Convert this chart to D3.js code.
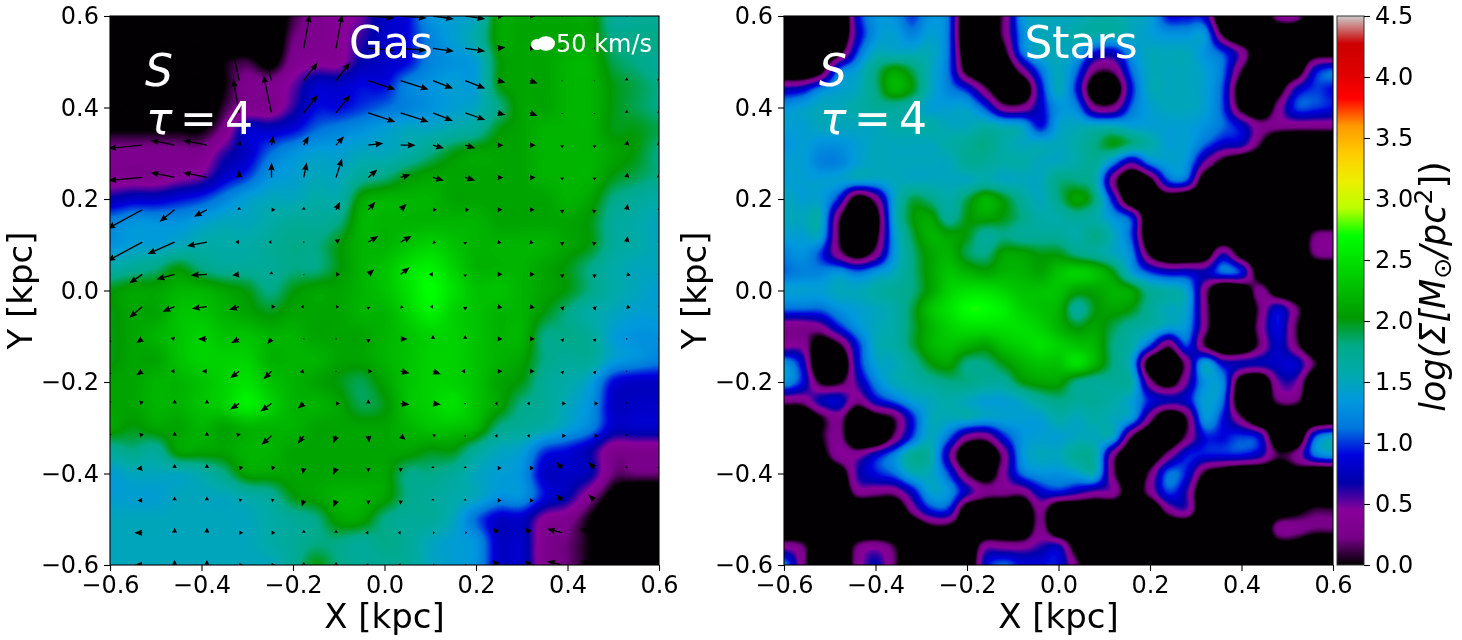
<!DOCTYPE html>
<html>
<head>
<meta charset="utf-8">
<script src="https://cdn.jsdelivr.net/npm/d3@7"></script>
<style>
	html, body { margin: 0; background: #fff; }
	#wrap { position: relative; width: 1462px; height: 640px; overflow: hidden; }
	canvas, svg { position: absolute; }
	svg { left: 0; top: 0; }
	text { font-family: "DejaVu Sans", sans-serif; }
</style>
</head>
<body>
<div id="wrap"></div>
<script>
// log surface density in tenths of a dex, top row is Y = 0.6, left column is X = -0.6
const gasDensity = [
	[-3,-3,-3,-3,-3,-3,-3,-3,1,3,4,5,8,9,13,14,15,21,21,21,21,21,17,17,17],
	[-3,-3,-3,-3,-3,-3,-3,-3,2,3,4,6,8,9,12,14,16,21,21,21,21,21,18,18,18],
	[-3,-3,-3,-3,-3,0,1,-1,3,4,4,7,8,9,12,13,14,20,21,21,22,22,19,18,17],
	[-3,-3,-3,-3,-3,0,3,3,5,8,8,9,9,12,13,14,14,20,21,21,22,22,20,19,18],
	[-3,-3,-3,-3,-3,1,3,3,6,9,9,10,11,12,13,14,15,18,21,21,22,22,20,19,18],
	[0,0,0,0,0,3,8,8,9,11,12,13,14,15,15,16,17,20,21,22,22,22,20,20,19],
	[3,3,3,3,3,6,8,11,13,14,14,15,15,16,18,20,21,21,21,22,22,22,21,20,18],
	[3,3,3,4,5,8,10,13,14,15,15,17,18,20,21,21,21,21,21,22,22,22,20,19,18],
	[7,8,8,9,10,12,14,15,15,16,16,21,22,22,22,21,21,21,21,21,22,21,18,17,16],
	[12,13,13,13,14,15,15,16,17,17,18,22,22,22,22,22,22,21,21,21,21,20,17,16,15],
	[13,14,14,15,16,16,16,17,18,18,20,22,22,23,24,23,22,22,22,22,21,20,17,16,15],
	[16,17,18,20,18,17,17,17,18,18,20,22,23,25,26,24,22,22,22,21,20,18,16,15,15],
	[20,21,21,22,22,21,20,18,20,21,21,22,23,25,27,25,23,23,22,21,20,18,16,15,14],
	[20,21,21,23,23,22,21,20,21,21,21,22,22,24,26,24,23,22,22,20,18,16,15,14,14],
	[20,21,22,23,24,23,23,22,22,21,21,21,22,23,24,24,23,22,22,18,18,17,14,13,13],
	[20,21,21,23,24,24,24,22,22,22,21,21,22,23,24,24,23,22,21,18,17,17,14,13,12],
	[21,21,22,22,23,24,25,23,22,21,20,19,21,23,24,24,23,21,20,17,16,14,9,8,8],
	[21,21,22,22,23,24,26,24,22,22,21,19,20,23,24,25,23,21,18,17,15,13,8,8,8],
	[21,20,21,21,22,21,22,22,22,21,21,21,21,22,23,23,22,18,17,16,14,12,8,8,8],
	[17,18,17,21,21,21,22,22,21,21,21,21,21,21,20,20,17,15,14,10,9,7,3,3,3],
	[14,15,15,15,16,18,21,21,21,21,21,21,21,18,18,17,15,14,13,8,8,7,2,2,2],
	[14,14,14,15,15,15,16,17,20,21,22,22,21,18,17,16,15,13,13,9,7,3,-1,-3,-3],
	[15,15,15,15,15,15,15,16,17,18,21,21,18,17,17,15,11,8,8,4,3,0,-3,-3,-3],
	[15,15,15,15,15,15,15,16,17,18,18,17,18,17,15,14,13,8,8,3,2,0,-3,-3,-3],
	[15,15,15,15,15,15,15,15,17,20,18,17,17,17,15,14,13,8,8,3,2,0,-3,-3,-3]
];

const starDensity = [
	[-5,-5,-5,-8,8,13,13,10,13,11,-6,-5,2,13,15,15,15,16,16,15,14,9,9,8,-6,-5,-5,3,3,-5,-5],
	[-5,-5,-5,-6,7,13,14,12,14,11,-6,-5,2,12,15,15,16,16,16,15,14,13,13,13,0,-6,-5,-5,-5,-5,-5],
	[-5,-5,-5,-1,10,15,15,15,15,11,-4,-5,-1,11,15,15,14,9,8,13,15,15,15,13,10,4,-4,-5,-5,-2,-2],
	[-5,-5,-1,11,14,18,21,19,15,11,-1,-5,-5,3,11,15,11,2,2,11,15,15,15,14,11,1,-5,-5,-3,8,11],
	[7,8,12,14,15,18,22,20,15,12,9,2,-5,-5,8,15,9,-4,-4,9,15,15,15,14,10,-3,-5,-2,7,10,9],
	[13,14,15,15,16,17,17,16,14,14,14,10,3,3,8,13,12,3,3,11,14,15,15,14,10,-1,-5,3,10,10,9],
	[14,14,15,15,15,15,16,16,16,15,15,16,15,14,9,14,15,15,15,14,14,14,14,13,11,8,3,3,3,3,3],
	[13,14,13,13,14,15,15,15,15,16,17,18,16,15,15,15,16,18,20,18,16,14,14,11,8,7,1,-5,-5,-5,-5],
	[14,14,12,12,14,15,15,15,15,15,17,17,16,16,15,15,16,17,12,6,12,14,13,5,-1,-4,-5,-5,-5,-5,-5],
	[14,14,14,14,14,14,15,15,15,15,15,16,15,15,15,18,18,16,3,-6,-1,10,10,-3,-5,-5,-5,-5,-5,-5,-5],
	[15,14,14,9,-2,3,14,19,18,16,19,22,20,17,15,18,21,18,8,-5,-5,-3,-5,-5,-5,-5,-5,-5,-5,-5,-5],
	[15,15,15,2,-8,-2,14,20,21,17,20,21,20,18,16,16,17,16,13,9,-5,-5,-5,-5,-5,-5,-5,-5,-5,-5,-5],
	[14,14,14,1,-8,-1,13,19,22,21,20,17,18,17,17,17,16,18,15,10,-5,-5,-5,-5,-5,-5,-5,-5,-5,2,3],
	[12,13,10,3,-2,3,13,18,21,22,19,18,21,21,20,20,18,17,15,12,0,-5,-5,-3,6,-2,-5,-5,-5,2,3],
	[11,12,12,13,11,13,15,18,21,23,22,21,22,22,21,23,24,23,20,14,10,8,8,7,11,9,-3,-5,-5,-5,-5],
	[14,14,14,15,15,16,17,18,21,24,25,25,24,23,23,23,21,21,22,21,17,16,14,3,-6,-4,3,-3,-5,-5,-5],
	[11,11,11,13,14,15,16,19,23,25,27,27,26,24,23,22,17,20,21,20,17,15,14,3,-6,-6,2,8,2,-5,-5],
	[3,3,4,9,13,15,16,19,22,24,25,25,25,25,24,22,20,21,19,17,16,14,13,3,-6,-6,3,9,1,-5,-5],
	[4,4,-3,0,9,15,16,19,22,23,22,21,23,24,25,24,23,22,18,16,10,2,10,1,-5,-5,2,8,2,-5,-5],
	[13,8,-6,-6,8,14,15,17,20,21,18,18,20,22,23,23,25,22,18,14,-3,-6,3,14,8,7,7,8,8,1,-5],
	[13,9,0,0,6,12,15,16,17,18,18,17,17,20,21,21,18,17,17,16,3,-2,5,13,12,-3,-5,5,5,-5,-5],
	[3,3,7,8,3,8,11,14,15,16,15,14,14,15,17,18,17,17,16,14,9,7,8,14,11,-5,-5,2,2,-5,-5],
	[-5,-5,0,3,-5,-2,1,9,15,15,15,14,14,14,14,16,15,16,15,13,3,-5,1,13,9,2,-5,-5,-5,-5,-4],
	[-5,-5,0,3,-6,-6,2,10,15,11,4,3,9,13,14,14,15,15,14,1,-5,-5,2,9,9,10,8,-5,-5,10,14],
	[-5,-5,-2,4,4,8,12,17,16,6,-5,-6,3,13,15,15,17,16,3,-5,-4,3,9,9,9,9,7,1,3,11,13],
	[-5,-5,-5,-3,6,9,11,15,15,10,1,-3,4,11,13,13,14,15,2,-5,2,11,9,0,-3,-5,-5,-5,-2,-5,-5],
	[-5,-5,-5,-5,3,3,3,8,14,13,7,3,3,3,8,9,7,5,4,-3,3,10,6,-5,-5,-5,-5,-5,-5,-5,-5],
	[-5,-5,-5,-5,-5,-5,-5,3,9,9,-3,-5,-5,-5,3,-5,-5,-5,-5,-5,-5,3,5,-5,-5,-5,-5,-3,-1,1,1],
	[-5,-5,-5,-5,-5,-5,-5,-5,-1,-1,-5,-5,-5,-5,3,-5,-5,-5,-5,-5,-5,-5,-5,-5,-5,-5,-5,3,3,2,2],
	[4,2,-5,-5,2,4,1,-5,-5,-5,-5,4,4,4,6,7,-2,-5,-5,-5,-5,-5,-5,-5,-5,-5,-5,-2,-2,-5,-5],
	[12,3,-5,-5,3,7,2,-5,-5,-5,-5,8,11,9,9,9,2,-5,-5,-5,-5,-5,-5,-5,-5,-5,-5,-5,-5,-5,-5]
];

// gas velocity in km/s on an 18x18 grid, same orientation as the density
const velU = [
	[0,-40,-48,-48,-14,-16,12,12,52,52,42,40,16,12,0,0,2,2],
	[0,-40,-48,-48,-14,-16,12,12,52,52,42,40,16,12,0,0,2,2],
	[0,-40,-48,-48,-14,-16,28,28,54,56,40,40,16,16,0,0,0,0],
	[0,-40,-48,-48,-12,-16,28,28,54,56,40,40,16,16,0,0,0,0],
	[-68,-68,-48,-48,2,4,10,16,30,30,22,20,12,12,0,0,2,0],
	[-68,-68,-48,-48,0,0,6,12,18,20,22,20,12,12,0,0,2,0],
	[-70,-70,-30,-26,0,8,0,8,14,12,8,8,10,10,0,-2,2,0],
	[-70,-70,-54,-40,-8,-6,0,8,20,22,6,0,8,8,0,-2,2,0],
	[-26,-26,-36,-32,-14,0,0,8,12,18,-8,0,10,10,0,0,8,0],
	[-26,-26,-24,-30,-20,8,-6,6,0,6,-6,0,10,10,2,2,8,0],
	[-12,-12,-8,-18,-16,-8,0,0,0,14,0,0,10,10,2,2,0,0],
	[-12,-12,-8,-10,-18,-16,-8,0,8,18,16,-8,10,10,2,2,0,0],
	[-6,-6,0,0,-18,-22,-12,8,0,18,16,0,-6,-6,8,8,0,0],
	[-6,-6,0,0,-6,-20,-12,-6,2,10,6,0,-6,-6,8,8,0,0],
	[-12,-12,0,0,8,8,-2,-6,0,0,0,0,8,8,-12,-12,0,0],
	[-10,-10,0,0,6,6,-4,-6,0,0,0,0,8,8,-12,-12,0,0],
	[-16,-16,0,0,8,8,0,0,-6,-6,4,4,-10,-10,-30,-30,0,0],
	[-16,-16,0,0,8,8,0,0,-6,-6,4,4,-10,-10,-30,-30,0,0]
];
const velV = [
	[0,20,10,10,68,68,68,68,-4,-4,-6,-6,2,0,0,0,0,0],
	[0,20,10,10,68,68,68,68,-4,-4,-6,-6,2,0,0,0,0,0],
	[0,20,10,10,68,68,36,36,-18,-18,-16,-16,-4,-6,-2,-2,6,6],
	[0,20,10,10,68,76,36,36,-18,-18,-16,-14,-4,-6,-2,-2,6,6],
	[-6,-6,10,10,8,20,18,18,4,0,-6,-6,0,0,-6,-6,10,8],
	[-6,-6,10,10,16,30,30,38,16,6,-6,-6,0,0,-6,-6,10,8],
	[-38,-38,-24,-14,6,0,6,16,16,12,0,0,0,0,-8,-8,12,4],
	[-38,-38,-24,-8,0,0,0,6,12,12,-2,-6,-2,-2,-8,-8,12,2],
	[-18,-18,-10,-2,-2,6,-2,0,10,14,0,-6,0,0,-8,-8,-2,2],
	[-22,-22,-10,-4,-6,0,0,0,-6,-2,0,-8,-2,-2,-8,-8,-2,2],
	[-8,-8,2,0,-8,-10,0,0,-8,0,8,8,0,0,-6,-6,0,0],
	[-8,-8,0,0,-14,-16,-2,0,0,-4,-6,0,0,0,-6,-6,0,0],
	[6,6,8,8,-12,-16,-10,0,8,-2,-2,0,0,0,0,0,4,4],
	[6,6,8,8,6,-18,-16,-16,-14,-8,2,0,0,0,0,0,4,4],
	[-2,-2,8,8,2,2,-12,-14,-8,-8,4,4,0,0,12,12,4,4],
	[0,0,8,8,2,2,-12,-14,-8,-8,4,4,0,0,12,12,0,0],
	[0,0,10,10,0,0,6,6,0,0,0,0,10,10,8,8,0,0],
	[0,0,10,10,0,0,6,6,0,0,0,0,10,10,8,8,0,0]
];

const axisTicks = [-0.6, -0.4, -0.2, 0, 0.2, 0.4, 0.6];
const barTicks = [0, 0.5, 1, 1.5, 2, 2.5, 3, 3.5, 4, 4.5];
const cmapStops = [0, .05, .1, .15, .2, .25, .3, .35, .4, .45, .5, .55, .6, .65, .7, .75, .8, .85, .9, .95, 1];
const cmapColors = ['#000000', '#770088', '#880099', '#0000aa', '#0000dd', '#0077dd', '#0099dd', '#00aaaa', '#00aa88', '#009900',
	'#00bb00', '#00dd00', '#00ff00', '#bbff00', '#eeee00', '#ffcc00', '#ff9900', '#ff0000', '#dd0000', '#cc0000', '#cccccc'];
const keySpeed = 50;

const panelSize = 549;
const panelTop = 16;
const panels = [
	{ left: 110, title: 'Gas', grid: gasDensity, titleX: 391 },
	{ left: 784, title: 'Stars', grid: starDensity, titleX: 1081 }
];

const vMax = 4.5;
const color = d3.scaleLinear().domain(cmapStops.map(d => d * vMax)).range(cmapColors).clamp(true);
const lut = d3.range(512).map(i => d3.rgb(color((i + .5) / 512 * vMax)));

const wrap = d3.select('#wrap');
const x = d3.scaleLinear().domain([-0.6, 0.6]).range([0, panelSize]);
const y = d3.scaleLinear().domain([-0.6, 0.6]).range([panelSize, 0]);
const tickFmt = d3.format('.1f');
const minusFmt = d => tickFmt(d).replace('-', '\u2212');

function catmull(a, b, c, d, t) {
	return b + .5 * t * (c - a + t * (2 * a - 5 * b + 4 * c - d + t * (3 * (b - c) + d - a)));
}

function drawHeat(panel) {
	const n = panel.grid.length;
	const gridCol = d3.scaleLinear().domain([-0.6, 0.6]).range([0, n - 1]);
	const gridRow = d3.scaleLinear().domain([0.6, -0.6]).range([0, n - 1]);
	const canvas = wrap.append('canvas')
		.attr('width', panelSize).attr('height', panelSize)
		.style('left', panel.left + 'px').style('top', panelTop + 'px');
	const ctx = canvas.node().getContext('2d');
	const img = ctx.createImageData(panelSize, panelSize);
	const at = (r, c) => panel.grid[Math.max(0, Math.min(n - 1, r))][Math.max(0, Math.min(n - 1, c))] / 10;

	for (let py = 0; py < panelSize; py++) {
		const gy = gridRow(y.invert(py + .5));
		const r0 = Math.floor(gy), ty = gy - r0;
		for (let px = 0; px < panelSize; px++) {
			const gx = gridCol(x.invert(px + .5));
			const c0 = Math.floor(gx), tx = gx - c0;
			const rows = [-1, 0, 1, 2].map(k =>
				catmull(at(r0 + k, c0 - 1), at(r0 + k, c0), at(r0 + k, c0 + 1), at(r0 + k, c0 + 2), tx));
			const v = catmull(rows[0], rows[1], rows[2], rows[3], ty);
			const idx = Math.max(0, Math.min(511, Math.floor(v / vMax * 512)));
			const rgb = lut[idx], o = (py * panelSize + px) * 4;
			img.data[o] = rgb.r; img.data[o + 1] = rgb.g; img.data[o + 2] = rgb.b; img.data[o + 3] = 255;
		}
	}
	ctx.putImageData(img, 0, 0);
}

panels.forEach(drawHeat);

const svg = wrap.append('svg').attr('width', 1462).attr('height', 640);
const defs = svg.append('defs');
defs.append('clipPath').attr('id', 'panelClip').append('rect').attr('width', panelSize).attr('height', panelSize);

// colorbar gradient
const barGrad = defs.append('linearGradient').attr('id', 'barGrad')
	.attr('x1', 0).attr('x2', 0).attr('y1', 1).attr('y2', 0);
barGrad.selectAll('stop').data(cmapStops).join('stop')
	.attr('offset', d => d)
	.attr('stop-color', (d, i) => cmapColors[i]);

// quiver arrow, length scale is px per km/s
const arrowLen = d3.scaleLinear().domain([0, keySpeed]).range([0, 25]);

function arrowPath(dx, dy) {
	const len = Math.hypot(dx, dy);
	if (len < .01) return 'M-.6,-.6h1.2v1.2h-1.2z';
	const headL = 8, headW = 6.5, shaftW = 1.3;
	const s = Math.min(1, Math.sqrt(len / headL)); // short arrows keep a visible head
	const hl = Math.min(len, headL), hw = headW * s / 2, sw = shaftW * s / 2;
	const pts = [[0, -sw], [len - hl * .9, -sw], [len - hl, -hw], [len, 0], [len - hl, hw], [len - hl * .9, sw], [0, sw]];
	const cos = dx / len, sin = dy / len;
	return d3.line()(pts.map(p => [p[0] * cos - p[1] * sin, p[0] * sin + p[1] * cos])) + 'Z';
}

panels.forEach((panel, pi) => {
	const g = svg.append('g').attr('transform', `translate(${panel.left},${panelTop})`);

	if (pi === 0) {
		const n = velU.length;
		const cells = d3.range(n * n).map(k => ({ r: Math.floor(k / n), c: k % n }));
		const qx = d3.scaleLinear().domain([0, n - 1]).range([x(-0.6), x(0.6)]);
		const qy = d3.scaleLinear().domain([0, n - 1]).range([y(0.6), y(-0.6)]);
		g.append('g').attr('clip-path', 'url(#panelClip)')
			.selectAll('path').data(cells).join('path')
			.attr('transform', d => `translate(${qx(d.c)},${qy(d.r)})`)
			.attr('d', d => arrowPath(arrowLen(velU[d.r][d.c]), -arrowLen(velV[d.r][d.c])))
			.attr('fill', '#000');
	}

	const xAxis = d3.axisBottom(x).tickValues(axisTicks).tickFormat(minusFmt).tickSize(6).tickPadding(5);
	const yAxis = d3.axisLeft(y).tickValues(axisTicks).tickFormat(minusFmt).tickSize(6).tickPadding(5);
	[g.append('g').attr('transform', `translate(0,${panelSize})`).call(xAxis),
	 g.append('g').call(yAxis)].forEach(a => {
		a.selectAll('text').style('font-size', '24px').attr('fill', '#000');
		a.selectAll('line').attr('stroke', '#000').attr('stroke-width', 1.1);
		a.select('.domain').remove();
	});
	g.append('rect').attr('width', panelSize).attr('height', panelSize)
		.attr('fill', 'none').attr('stroke', '#000').attr('stroke-width', 1.1);

	g.append('text').attr('x', panelSize / 2).attr('y', 612).attr('text-anchor', 'middle')
		.style('font-size', '34px').text('X [kpc]');
	g.append('text').attr('transform', `translate(${-78},${panelSize / 2}) rotate(-90)`)
		.attr('text-anchor', 'middle').style('font-size', '34px').text('Y [kpc]');

	// labels inside the panel
	svg.append('text').attr('x', panel.titleX).attr('y', 58).attr('text-anchor', 'middle')
		.attr('fill', '#fff').style('font-size', '44px').text(panel.title);
	svg.append('text').attr('x', panel.left + 35).attr('y', 86).attr('fill', '#fff')
		.style('font-size', '44px').style('font-style', 'italic').text('S');
	const tau = svg.append('text').attr('y', 134).attr('fill', '#fff').style('font-size', '44px');
	tau.append('tspan').attr('x', panel.left + 36).style('font-style', 'italic').text('\u03c4');
	tau.append('tspan').attr('x', panel.left + 70).text('=');
	tau.append('tspan').attr('x', panel.left + 115).text('4');
});

// velocity key
const key = svg.append('g').attr('fill', '#fff');
key.append('ellipse').attr('cx', 537).attr('cy', 44.5).attr('rx', 6).attr('ry', 5.5);
key.append('ellipse').attr('cx', 546).attr('cy', 43.5).attr('rx', arrowLen(keySpeed) * .36).attr('ry', 7.3);
svg.append('text').attr('x', 556).attr('y', 52).attr('fill', '#fff')
	.style('font-size', '24px').text(`${keySpeed} km/s`);

// colorbar
const barLeft = 1337, barWidth = 27;
const barScale = d3.scaleLinear().domain([0, vMax]).range([panelTop + panelSize, panelTop]);
svg.append('rect').attr('x', barLeft).attr('y', panelTop).attr('width', barWidth).attr('height', panelSize)
	.attr('fill', 'url(#barGrad)').attr('stroke', '#333').attr('stroke-width', 1);
const barAxis = svg.append('g').attr('transform', `translate(${barLeft + barWidth},0)`)
	.call(d3.axisRight(barScale).tickValues(barTicks).tickFormat(tickFmt).tickSize(6).tickPadding(5));
barAxis.select('.domain').remove();
barAxis.selectAll('text').style('font-size', '24px').attr('fill', '#000');
barAxis.selectAll('line').attr('stroke', '#000').attr('stroke-width', 1.1);

const barLabel = svg.append('text').attr('transform', `translate(1445,${panelTop + panelSize / 2 - 4}) rotate(-90)`)
	.attr('text-anchor', 'middle').style('font-size', '35px').style('font-style', 'italic');
barLabel.append('tspan').text('log(\u03a3[M');
barLabel.append('tspan').attr('dy', 6).style('font-size', '25px').style('font-style', 'normal').text('\u2299');
barLabel.append('tspan').attr('dy', -6).text('/pc');
barLabel.append('tspan').attr('dy', -13).style('font-size', '25px').style('font-style', 'normal').text('2');
barLabel.append('tspan').attr('dy', 13).style('font-style', 'normal').text('])');
</script>
</body>
</html>
